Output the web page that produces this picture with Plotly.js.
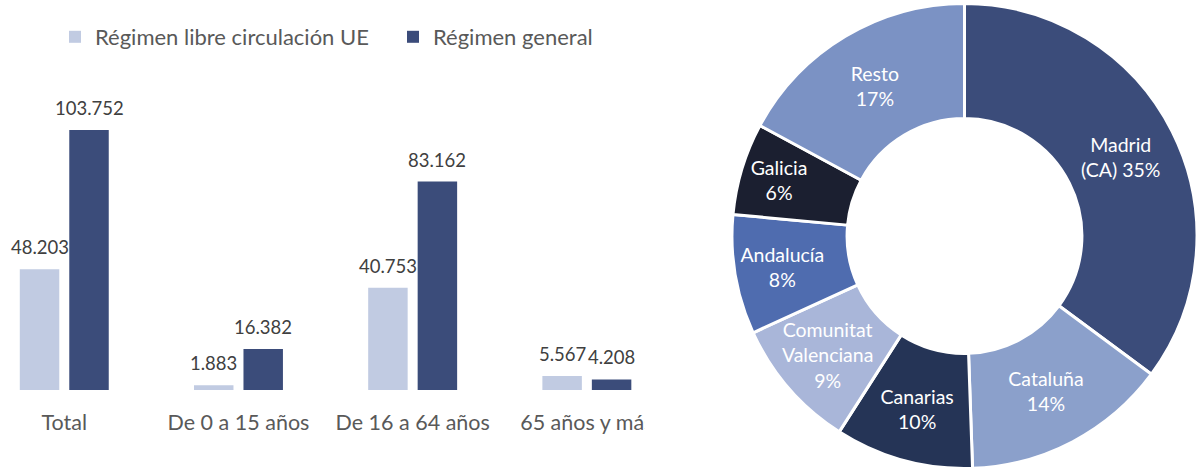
<!DOCTYPE html>
<html>
<head>
<meta charset="utf-8">
<script src="https://cdn.plot.ly/plotly-3.0.1.min.js"></script>
<style>
  html, body { margin: 0; padding: 0; background: #ffffff; overflow: hidden; }
  #wrap { position: relative; width: 1197px; height: 468px; overflow: hidden; }
  #bars { position: absolute; left: 0; top: 0; width: 645px; height: 468px; overflow: hidden; }
  #barsInner { width: 760px; height: 468px; }
  #donut { position: absolute; left: 700px; top: 0; width: 497px; height: 472px; }
</style>
</head>
<body>
<div id="wrap">
  <div id="bars"><div id="barsInner"></div></div>
  <div id="donut"></div>
</div>
<script>
// ---- Data ----
const categories = ["Total", "De 0 a 15 años", "De 16 a 64 años", "65 años y más"];
const seriesNames = ["Régimen libre circulación UE", "Régimen general"];
const libreCirculacion = [48203, 1883, 40753, 5567];
const regimenGeneral = [103752, 16382, 83162, 4208];

const regions = ["Madrid (CA)", "Cataluña", "Canarias", "Comunitat Valenciana", "Andalucía", "Galicia", "Resto"];
const regionLabelText = ["Madrid<br>(CA) ", "Cataluña<br>", "Canarias<br>", "Comunitat<br>Valenciana<br>", "Andalucía<br>", "Galicia<br>", "Resto<br>"];
const regionShare = [35.1, 14.3, 9.6, 9.1, 8.3, 6.4, 17.1];

// ---- Styles ----
const FONT = "Lato, 'Open Sans', sans-serif";
const FS_NUM = 18.5;
const FS_TICK = 21.5;
const FS_LEG = 22;
const FS_PIE = 19.5;
const colLight = "#C1CBE2";
const colDark = "#3B4C7A";
const regionColors = ["#3B4C7A", "#8BA0CB", "#253456", "#A9B6D9", "#4F6CAF", "#1B1F30", "#7B92C4"];

function fmt(v) {
  return String(v).replace(/\B(?=(\d{3})+(?!\d))/g, ".");
}

const barTraces = [
  { type: "bar", name: seriesNames[0], x: categories, y: libreCirculacion,
    marker: { color: colLight }, hoverinfo: "x+y" },
  { type: "bar", name: seriesNames[1], x: categories, y: regimenGeneral,
    marker: { color: colDark }, hoverinfo: "x+y" }
];

const annotations = [];
[libreCirculacion, regimenGeneral].forEach(function (vals, s) {
  vals.forEach(function (v, i) {
    annotations.push({
      x: categories[i], y: v, xref: "x", yref: "y",
      text: fmt(v), showarrow: false, yanchor: "bottom",
      xshift: s === 0 ? -24.75 : 24.75, yshift: 9,
      font: { family: FONT, size: FS_NUM, color: "#404040" }
    });
  });
});

const barLayout = {
  width: 760, height: 468,
  margin: { l: 0, r: 0, t: 0, b: 0 },
  paper_bgcolor: "#ffffff", plot_bgcolor: "#ffffff",
  font: { family: FONT, size: FS_TICK, color: "#595959" },
  barmode: "group", bargap: 0.432, bargroupgap: 0.202,
  showlegend: true,
  legend: {
    orientation: "h", x: 55 / 760, xanchor: "left", y: (468 - 37) / 468, yanchor: "middle",
    font: { family: FONT, size: FS_LEG, color: "#595959" },
    entrywidth: 293, bgcolor: "rgba(0,0,0,0)", borderwidth: 0
  },
  xaxis: {
    type: "category", domain: [0, 1], range: [-0.369, 3.994],
    showgrid: false, zeroline: false, showline: false, ticks: "",
    ticklabelstandoff: 17,
    tickfont: { family: FONT, size: FS_TICK, color: "#595959" }
  },
  yaxis: {
    domain: [78 / 468, 408 / 468], range: [0, 131685],
    visible: false, showgrid: false, zeroline: false
  },
  annotations: annotations
};

Plotly.newPlot("barsInner", barTraces, barLayout, { displayModeBar: false, staticPlot: true });

const pieTrace = {
  type: "pie", labels: regions, values: regionShare,
  customdata: regionLabelText,
  texttemplate: "%{customdata}%{percent:.0%}",
  textposition: "inside", insidetextorientation: "horizontal",
  textfont: { family: FONT, size: FS_PIE, color: "#ffffff" },
  sort: false, direction: "clockwise", rotation: 0,
  hole: 0.505,
  marker: { colors: regionColors, line: { color: "#ffffff", width: 3 } },
  domain: { x: [32 / 497, 1], y: [0, 1] },
  hoverinfo: "label+percent"
};

const pieLayout = {
  width: 497, height: 472,
  margin: { l: 0, r: 0, t: 0, b: 0 },
  paper_bgcolor: "rgba(0,0,0,0)",
  showlegend: false,
  font: { family: FONT, size: FS_PIE },
  uniformtext: { mode: "show", minsize: FS_PIE }
};

Plotly.newPlot("donut", [pieTrace], pieLayout, { displayModeBar: false, staticPlot: true });
</script>
</body>
</html>
